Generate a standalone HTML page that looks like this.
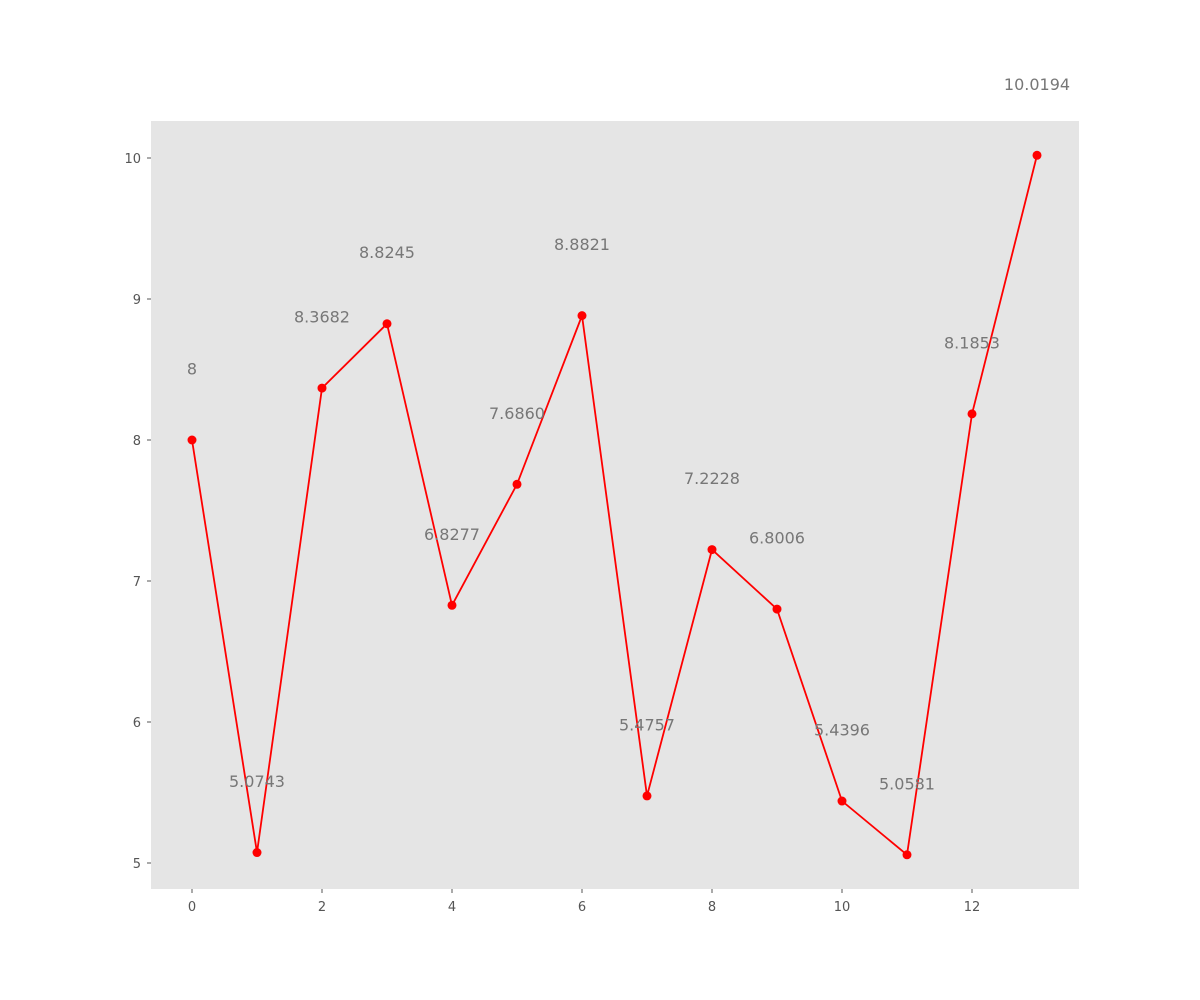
<!DOCTYPE html>
<html><head><meta charset="utf-8"><style>
body{margin:0;background:#fff;}
svg{display:block;font-family:"DejaVu Sans","Liberation Sans",sans-serif;}
</style></head><body>
<svg id="chart" width="1200" height="1000">
<rect x="151" y="121" width="928" height="768" fill="#e5e5e5"/>
<g id="ticks"></g><g id="series"></g><g id="labels"></g>
</svg>
<script>
const xValues=[0,1,2,3,4,5,6,7,8,9,10,11,12,13];
const yValues=[8,5.0743,8.3682,8.8245,6.8277,7.6860,8.8821,5.4757,7.2228,6.8006,5.4396,5.0581,8.1853,10.0194];
const pointLabels=["8","5.0743","8.3682","8.8245","6.8277","7.6860","8.8821","5.4757","7.2228","6.8006","5.4396","5.0581","8.1853","10.0194"];
const xTicks=[0,2,4,6,8,10,12];
const yTicks=[5,6,7,8,9,10];
const NS="http://www.w3.org/2000/svg";
function sx(v){return 192+v*65;}
function sy(v){return 863-(v-5)*141;}
function mk(tag,attrs,parent){const e=document.createElementNS(NS,tag);for(const k in attrs)e.setAttribute(k,attrs[k]);parent.appendChild(e);return e;}
const tg=document.getElementById('ticks');
xTicks.forEach(t=>{
 const l=mk('line',{x1:sx(t),x2:sx(t),y1:889,y2:893,stroke:'#555','stroke-width':1},tg);
 
 
 const tx=mk('text',{x:sx(t),y:911,'text-anchor':'middle','font-size':13,fill:'#555'},tg);
 tx.textContent=t;
 
 
});
yTicks.forEach(t=>{
 const l=mk('line',{x1:147,x2:151,y1:sy(t),y2:sy(t),stroke:'#555','stroke-width':1},tg);
 
 
 const tx=mk('text',{x:141,y:sy(t)+5,'text-anchor':'end','font-size':13,fill:'#555'},tg);
 tx.textContent=t;
 
 
});
const sg=document.getElementById('series');
const pl=mk('polyline',{points:xValues.map((x,i)=>sx(x)+','+sy(yValues[i])).join(' '),fill:'none',stroke:'#ff0000','stroke-width':1.8},sg);


const lg=document.getElementById('labels');
xValues.forEach((x,i)=>{
 const c=mk('circle',{cx:sx(x),cy:sy(yValues[i]),r:4.5,fill:'#ff0000'},sg);
 
 
 const t=mk('text',{x:sx(x),y:sy(yValues[i]+0.5)+5,'text-anchor':'middle','font-size':16,fill:'#777'},lg);
 t.textContent=pointLabels[i];
 
 
});
</script>
</body></html>
